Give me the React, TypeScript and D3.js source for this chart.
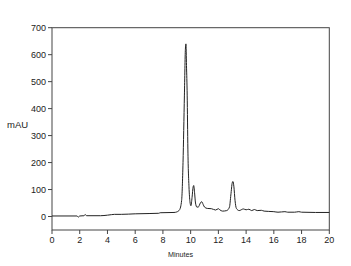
import React from "react";
import * as d3 from "d3";

const times = [0, 1.8, 1.9, 2.0, 2.3, 2.4, 2.5, 3.5, 4.0, 4.3, 4.5, 5, 6, 7, 7.7, 7.8, 8.8, 9.0, 9.2, 9.35, 9.45, 9.55, 9.62, 9.66, 9.7, 9.75, 9.8, 9.88, 9.95, 10.02, 10.1, 10.18, 10.22, 10.28, 10.35, 10.45, 10.55, 10.7, 10.8, 10.9, 11.0, 11.2, 11.5, 11.8, 12.0, 12.1, 12.3, 12.6, 12.8, 12.9, 13.0, 13.05, 13.12, 13.2, 13.3, 13.5, 13.8, 14.0, 14.2, 14.4, 14.6, 14.8, 15.1, 15.3, 15.6, 16.0, 16.3, 16.8, 17.0, 17.5, 17.8, 18.0, 19, 20];
const absorbance = [2, 2, -2, 2, 3, 7, 3, 3, 5, 7, 8, 8, 10, 11, 12, 14, 15, 17, 25, 60, 200, 450, 620, 640, 560, 450, 250, 110, 55, 40, 70, 110, 115, 90, 50, 35, 35, 50, 55, 45, 35, 30, 29, 24, 29, 25, 20, 22, 35, 80, 125, 130, 110, 60, 30, 22, 28, 25, 27, 22, 26, 22, 23, 20, 19, 18, 16, 18, 16, 16, 18, 16, 15, 15];
const xTicks = [0, 2, 4, 6, 8, 10, 12, 14, 16, 18, 20];
const yTicks = [0, 100, 200, 300, 400, 500, 600, 700];

export default function App() {
  const W = 351, H = 266;
  const left = 52, right = 329.3, top = 27.7, bottom = 230;
  const x = d3.scaleLinear().domain([0, 20]).range([left, right]);
  const y = d3.scaleLinear().domain([-50, 700]).range([bottom, top]);
  const pts = times.map((t, i) => [t, absorbance[i]] as [number, number]);
  const line = d3.line<[number, number]>().x(d => x(d[0])).y(d => y(d[1])).curve(d3.curveMonotoneX);
  const ax = "#444";
  const font = "'Liberation Sans', Arial, sans-serif";
  return (
    <svg width={W} height={H} style={{ position: "absolute", left: 0, top: 0, background: "#fff" }}>
      <rect x={left} y={top} width={right - left} height={bottom - top} fill="none" stroke={ax} strokeWidth={1} />
      {xTicks.map(t => (
        <g key={"x" + t}>
          <line x1={x(t)} x2={x(t)} y1={bottom} y2={bottom + 4} stroke={ax} />
          <text x={x(t)} y={243} textAnchor="middle" fontSize={9} fontFamily={font} fill="#222">{t}</text>
        </g>
      ))}
      {yTicks.map(t => (
        <g key={"y" + t}>
          <line x1={left - 4} x2={left} y1={y(t)} y2={y(t)} stroke={ax} />
          <text x={left - 6} y={y(t) + 3} textAnchor="end" fontSize={9} fontFamily={font} fill="#222">{t}</text>
        </g>
      ))}
      <text x={7} y={128} fontSize={9.5} fontFamily={font} fill="#222">mAU</text>
      <text x={180.5} y={257} textAnchor="middle" fontSize={7.2} fontFamily={font} fill="#222">Minutes</text>
      <path d={line(pts) || ""} fill="none" stroke="#222" strokeWidth={1} />
    </svg>
  );
}
